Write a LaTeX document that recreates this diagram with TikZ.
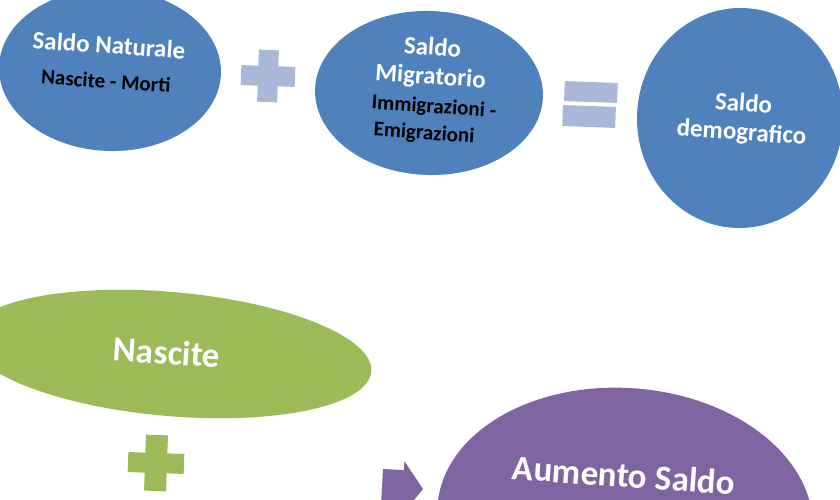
\documentclass[tikz,border=0pt]{standalone}
\usepackage{fontspec}
\setmainfont{Carlito}
\usetikzlibrary{shapes.geometric}
\definecolor{oblue}{HTML}{4F81BD}
\definecolor{lblue}{HTML}{A9B8D8}
\definecolor{ogreen}{HTML}{9BBB59}
\definecolor{opurple}{HTML}{8064A2}
\tikzset{
  blob/.style={ellipse, inner sep=0pt, draw=none},
  wt/.style={text=white, font=\bfseries\fontsize{25}{29}\selectfont, inner sep=0pt, align=center, rotate=-4},
  bt/.style={text=black, font=\bfseries\fontsize{21}{27}\selectfont, inner sep=0pt, align=center, rotate=-4},
  big/.style={text=white, font=\bfseries\fontsize{35}{40}\selectfont, inner sep=0pt, rotate=-4},
}
\begin{document}
\begin{tikzpicture}[x=1pt,y=-1pt]
\useasboundingbox (0,0) rectangle (840,500);
\clip (0,0) rectangle (840,500);
\fill[white] (0,0) rectangle (840,500);

% top row
\node[blob, fill=oblue, minimum width=222pt, minimum height=162pt, rotate=-2] (nat) at (110,70) {};
\node[blob, fill=oblue, minimum width=228pt, minimum height=164pt, rotate=-2] (mig) at (429,93) {};
\node[blob, fill=oblue, minimum width=206pt, minimum height=220pt, rotate=-2] (dem) at (740,118) {};

\node[wt] (natT) at (109,45) {Saldo Naturale};
\node[bt] (natS) at (106,81) {Nascite - Morti};

\node[wt] (migT) at (431.5,63) {Saldo\\Migratorio};
\node[bt] (migS) at (433,121) {Immigrazioni -\\Emigrazioni\rule{16pt}{0pt}};

\node[wt] (demT) at (742.5,119) {Saldo\\demografico};

% plus (light blue)
\coordinate (p1) at (268,76);
\fill[lblue, shift={(p1)}, rotate=-2]
  (-10,-26) -- (10,-26) -- (10,-10) -- (27,-10) -- (27,10) -- (10,10) -- (10,26)
  -- (-10,26) -- (-10,10) -- (-27,10) -- (-27,-10) -- (-10,-10) -- cycle;

% equals
\coordinate (eq) at (590,104);
\fill[lblue, shift={(eq)}, rotate=-2] (-26,-22) rectangle (27,-2);
\fill[lblue, shift={(eq)}, rotate=-2] (-27,2) rectangle (26,23);

% bottom
\node[blob, fill=ogreen, minimum width=404pt, minimum height=124pt, rotate=-5] (nas) at (170,354) {};
\node[big] (nasT) at (167,352) {Nascite};

\coordinate (p2) at (156,463);
\fill[ogreen, shift={(p2)}, rotate=-2]
  (-11,-28) -- (11,-28) -- (11,-10) -- (28,-10) -- (28,10) -- (11,10) -- (11,28)
  -- (-11,28) -- (-11,10) -- (-28,10) -- (-28,-10) -- (-11,-10) -- cycle;

\coordinate (ar) at (402,488);
\fill[opurple, shift={(ar)}, rotate=-3]
  (-20,-18) -- (1,-18) -- (1,-27) -- (21,0) -- (1,27) -- (1,18) -- (-20,18) -- cycle;

\node[blob, fill=opurple, minimum width=376pt, minimum height=262pt, rotate=-4] (aum) at (625,519) {};
\node[big] (aumT) at (624,475) {Aumento Saldo};
\end{tikzpicture}
\end{document}
